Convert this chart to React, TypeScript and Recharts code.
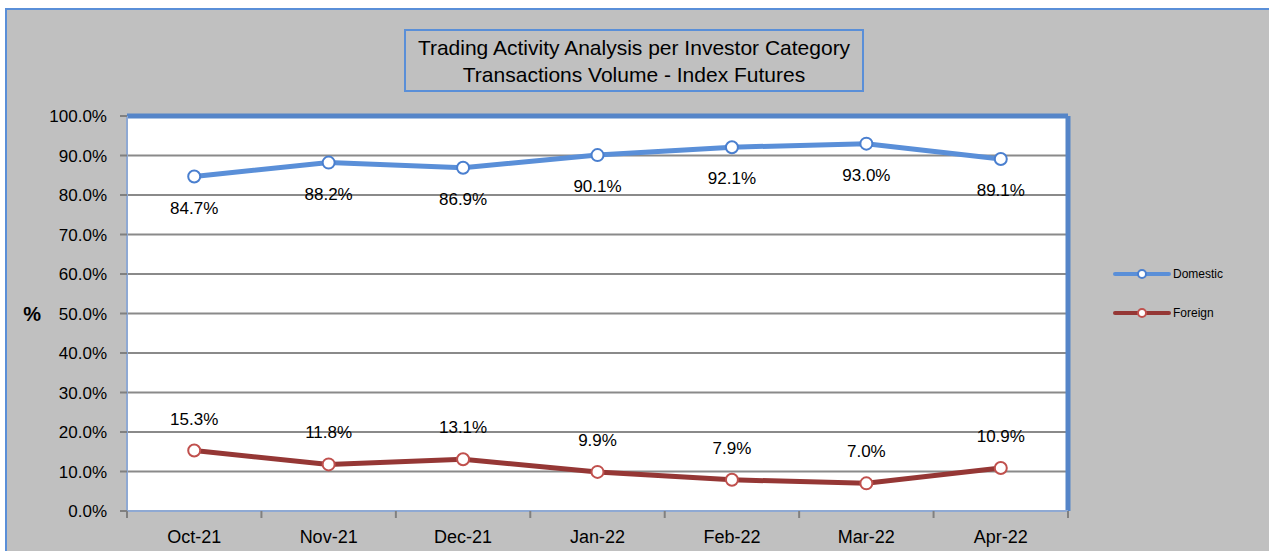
import React from "react";
import {
  LineChart,
  Line,
  XAxis,
  YAxis,
  CartesianGrid,
  Legend,
  LabelList,
  ReferenceLine,
} from "recharts";

const months = ["Oct-21", "Nov-21", "Dec-21", "Jan-22", "Feb-22", "Mar-22", "Apr-22"];
const domestic = [84.7, 88.2, 86.9, 90.1, 92.1, 93.0, 89.1];
const foreign = [15.3, 11.8, 13.1, 9.9, 7.9, 7.0, 10.9];
const yTicks = [0, 10, 20, 30, 40, 50, 60, 70, 80, 90, 100];

const data = months.map((m, i) => ({ month: m, domestic: domestic[i], foreign: foreign[i] }));

const FONT = "'Liberation Sans', Arial, sans-serif";
const BLUE = "#5a8fd8";
const FRAME = "#5585c8";
const RED = "#953735";

function MonthTick(props: any) {
  const { x, y, payload, index } = props;
  const off = payload?.offset ?? 0;
  return (
    <g>
      <line x1={x - off} y1={y} x2={x - off} y2={y + 7} stroke="#808080" strokeWidth={2} />
      {index === months.length - 1 && (
        <line x1={x + off} y1={y} x2={x + off} y2={y + 7} stroke="#808080" strokeWidth={2} />
      )}
      <text x={x} y={y + 26} textAnchor="middle" dominantBaseline="central" fontSize={18} fill="#000" fontFamily={FONT}>
        {payload.value}
      </text>
    </g>
  );
}

function LegendBox() {
  const rows = [
    { name: "Domestic", line: BLUE, dot: "#4a7fcf" },
    { name: "Foreign", line: RED, dot: "#c0504d" },
  ];
  return (
    <div>
      {rows.map((r) => (
        <div key={r.name} style={{ display: "flex", alignItems: "center", height: 39 }}>
          <svg width={58} height={12}>
            <line x1={2} y1={6} x2={56} y2={6} stroke={r.line} strokeWidth={4} strokeLinecap="round" />
            <circle cx={29} cy={6} r={4} fill="#fff" stroke={r.dot} strokeWidth={2} />
          </svg>
          <span style={{ fontSize: 12, fontFamily: FONT, color: "#000", marginLeft: 2 }}>{r.name}</span>
        </div>
      ))}
    </div>
  );
}

export default function App() {
  return (
    <div style={{ position: "fixed", left: 0, top: 0, width: 1269, height: 551, overflow: "hidden" }}>
      <div
        style={{
          position: "absolute",
          left: 5,
          top: 8,
          width: 1270,
          height: 560,
          background: "#c0c0c0",
          borderTop: `2px solid ${BLUE}`,
          borderLeft: `2px solid ${BLUE}`,
        }}
      />
      <div
        style={{
          position: "absolute",
          boxSizing: "border-box",
          left: 404,
          top: 29,
          width: 460,
          height: 63,
          border: `2px solid ${BLUE}`,
          fontFamily: FONT,
          fontSize: 21,
          lineHeight: "27px",
          textAlign: "center",
          paddingTop: 3,
          color: "#000",
        }}
      >
        Trading Activity Analysis per Investor Category
        <br />
        Transactions Volume - Index Futures
      </div>
      <div style={{ position: "absolute", left: 0, top: 0 }}>
        <LineChart width={1269} height={551} data={data} margin={{ top: 116, right: 201, bottom: 0, left: 67 }}>
          <CartesianGrid horizontal vertical={false} fill="#ffffff" fillOpacity={1} stroke="#8a8a8a" strokeWidth={2} />
          <XAxis
            dataKey="month"
            scale="band"
            height={40}
            tickSize={0}
            tickMargin={0}
            tickLine={false}
            axisLine={{ stroke: "#8fa9d3", strokeWidth: 2 }}
            tick={<MonthTick />}
            interval={0}
          />
          <YAxis
            domain={[0, 100]}
            ticks={yTicks}
            width={60}
            tickSize={7}
            tickMargin={13}
            interval={0}
            tickFormatter={(v: number) => v.toFixed(1) + "%"}
            tick={{ fontSize: 17, fill: "#000", fontFamily: FONT }}
            tickLine={{ stroke: "#808080", strokeWidth: 2 }}
            axisLine={{ stroke: "#8fa9d3", strokeWidth: 2 }}
            label={{ value: "%", position: "left", offset: 26, style: { fontSize: 20, fontWeight: "bold", fill: "#000", fontFamily: FONT } }}
          />
          <ReferenceLine y={100} stroke={FRAME} strokeWidth={5} />
          <ReferenceLine x={months[months.length - 1]} position="end" stroke={FRAME} strokeWidth={5} />
          <Legend
            layout="vertical"
            verticalAlign="middle"
            align="center"
            content={<LegendBox />}
            wrapperStyle={{ position: "absolute", top: 254, left: 1113, width: 140 }}
          />
          <Line
            type="linear"
            dataKey="domestic"
            name="Domestic"
            stroke={BLUE}
            strokeWidth={5}
            dot={{ r: 6, fill: "#fff", stroke: "#4a7fcf", strokeWidth: 2 }}
            activeDot={false}
            isAnimationActive={false}
          >
            <LabelList
              dataKey="domestic"
              position="bottom"
              offset={25}
              formatter={(v: any) => Number(v).toFixed(1) + "%"}
              style={{ fontSize: 17, fill: "#000", fontFamily: FONT }}
            />
          </Line>
          <Line
            type="linear"
            dataKey="foreign"
            name="Foreign"
            stroke={RED}
            strokeWidth={5}
            dot={{ r: 6, fill: "#fff", stroke: "#c0504d", strokeWidth: 2 }}
            activeDot={false}
            isAnimationActive={false}
          >
            <LabelList
              dataKey="foreign"
              position="top"
              offset={26}
              formatter={(v: any) => Number(v).toFixed(1) + "%"}
              style={{ fontSize: 17, fill: "#000", fontFamily: FONT }}
            />
          </Line>
        </LineChart>
      </div>
    </div>
  );
}
